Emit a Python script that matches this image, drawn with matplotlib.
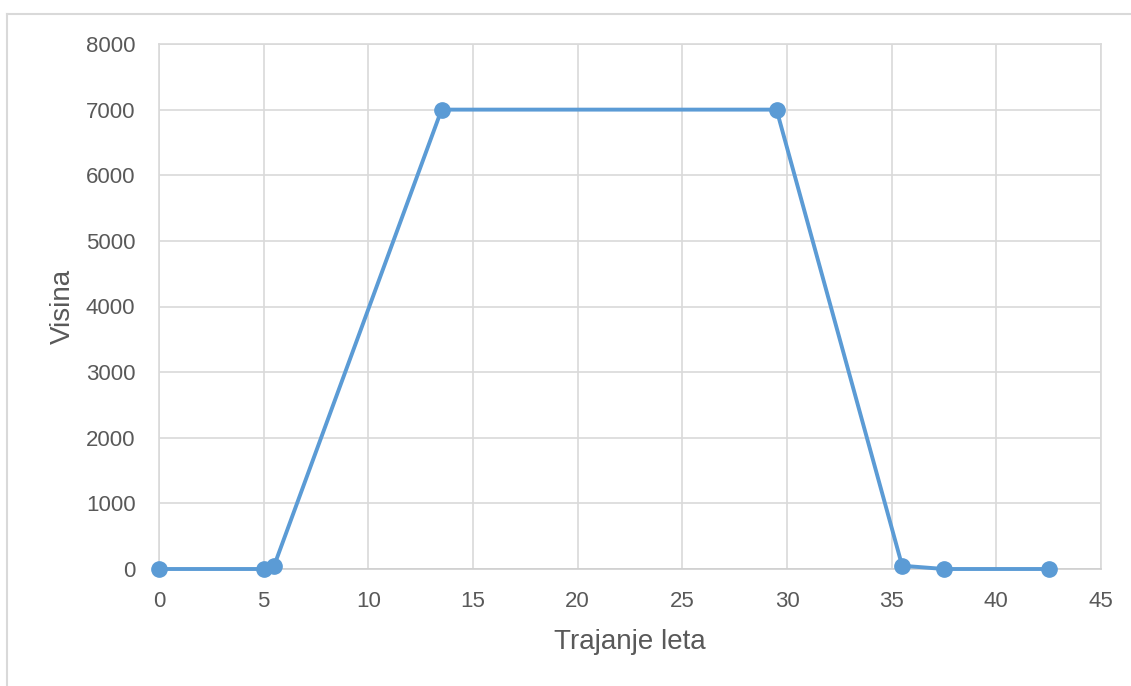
import matplotlib
matplotlib.use("Agg")
import matplotlib.pyplot as plt
from matplotlib.lines import Line2D

# Flight profile: time vs altitude
trajanje = [0, 5, 5.5, 13.5, 29.5, 35.5, 37.5, 42.5]
visina = [0, 0, 50, 7000, 7000, 50, 0, 0]

x_ticks = list(range(0, 50, 5))
y_ticks = list(range(0, 9000, 1000))

grid_color = '#D9D9D9'
text_color = '#595959'
line_color = '#5B9BD5'

plt.rcParams['font.family'] = ['Liberation Sans', 'DejaVu Sans']

fig = plt.figure(figsize=(11.31, 6.86), dpi=100)
ax = fig.add_axes([159 / 1131, 1 - 569 / 686, (1101 - 159) / 1131, (569 - 44) / 686])

ax.plot(trajanje, visina, color=line_color, linewidth=2.8, marker='o',
        markersize=11, markerfacecolor=line_color, markeredgecolor=line_color,
        zorder=3, clip_on=False)

ax.set_xlim(0, 45)
ax.set_ylim(0, 8000)
ax.set_xticks(x_ticks)
ax.set_yticks(y_ticks)
ax.grid(True, color=grid_color, linewidth=1.2)
ax.set_axisbelow(True)
# edges drawn as spines so they are not half clipped
for s in ax.spines.values():
    s.set_color(grid_color)
    s.set_linewidth(1.2)
ax.spines['bottom'].set_color('#CFCFCF')
ax.tick_params(length=0, labelsize=16, colors=text_color)
ax.tick_params(axis='x', pad=16)
ax.tick_params(axis='y', pad=17)

ax.set_xlabel('Trajanje leta', fontsize=20, color=text_color, labelpad=12)
ax.set_ylabel('Visina', fontsize=20, color=text_color, labelpad=7)

# chart area border
fig.add_artist(Line2D([7 / 1131, 1], [1 - 14 / 686, 1 - 14 / 686], color=grid_color, linewidth=1.5))
fig.add_artist(Line2D([7 / 1131, 7 / 1131], [0, 1 - 14 / 686], color=grid_color, linewidth=1.5))

fig.savefig('out.png', dpi=100)
